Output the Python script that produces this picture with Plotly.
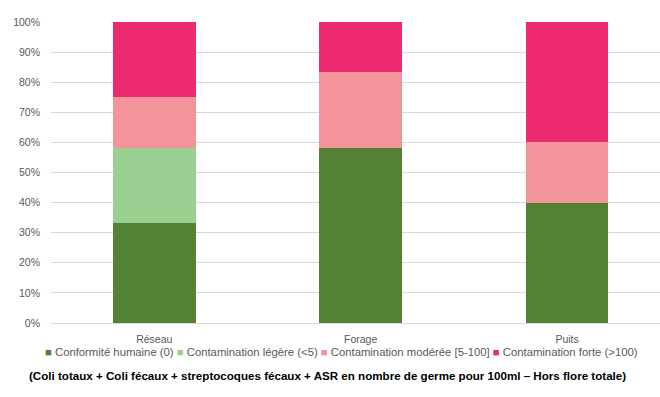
import plotly.graph_objects as go

# Water sources and share of samples (%) in each contamination class
sources = ["Réseau", "Forage", "Puits"]
classes = [
    "Conformité humaine (0)",
    "Contamination légère (<5)",
    "Contamination modérée [5-100]",
    "Contamination forte (>100)",
]
conformite = [33.3, 58.3, 40.0]
legere = [25.0, 0.0, 0.0]
moderee = [16.7, 25.0, 20.0]
forte = [25.0, 16.7, 40.0]
y_ticks = [0, 10, 20, 30, 40, 50, 60, 70, 80, 90, 100]
caption = ("(Coli totaux + Coli fécaux + streptocoques fécaux + ASR en nombre "
           "de germe pour 100ml – Hors flore totale)")

colors = ["#548235", "#9ACF92", "#F3939A", "#ED2A70"]
series = [conformite, legere, moderee, forte]

FONT = "Liberation Sans Narrow, Liberation Sans, Arial, sans-serif"

fig = go.Figure()
for name, vals, col in zip(classes, series, colors):
    fig.add_trace(go.Bar(
        x=sources, y=vals, name=name, marker_color=col,
        marker_line_width=0, width=0.40, showlegend=False,
    ))

# Legend row drawn as a line of coloured squares and labels
legend_html = " ".join(
    f"<span style='color:{c}'>■</span><span style='color:#595959'> {n}</span>"
    for n, c in zip(classes, colors)
)

fig.update_layout(
    barmode="stack",
    width=660, height=397,
    margin=dict(l=51, r=0, t=22, b=74),
    paper_bgcolor="white", plot_bgcolor="white",
    font=dict(family=FONT, size=10, color="#595959"),
    xaxis=dict(range=[-0.5, 2.45], showgrid=False, showline=False,
               ticks="", ticklabelstandoff=8,
               tickfont=dict(size=10.5, color="#595959")),
    yaxis=dict(range=[0, 100], tickvals=y_ticks,
               ticktext=[f"{v}%" for v in y_ticks],
               showgrid=True, gridcolor="#D9D9D9", gridwidth=1,
               zeroline=True, zerolinecolor="#D9D9D9", zerolinewidth=1,
               showline=False, ticks="", ticklabelstandoff=10,
               tickfont=dict(size=10.5, color="#595959")),
    annotations=[
        dict(text=legend_html, x=341, y=397 - 352, xref="paper", yref="paper",
             showarrow=False, font=dict(family=FONT, size=11.3)),
        dict(text=f"<b>{caption}</b>", x=327, y=397 - 375,
             xref="paper", yref="paper", showarrow=False,
             font=dict(family=FONT, size=11.6, color="#000000")),
    ],
)

# Place annotations in pixel coordinates of the page
for a in fig.layout.annotations:
    a.x = (a.x - 51) / (660 - 51)
    a.y = (a.y - 74) / (397 - 22 - 74)
    a.xanchor = "center"
    a.yanchor = "middle"

fig.write_html("out.html")
